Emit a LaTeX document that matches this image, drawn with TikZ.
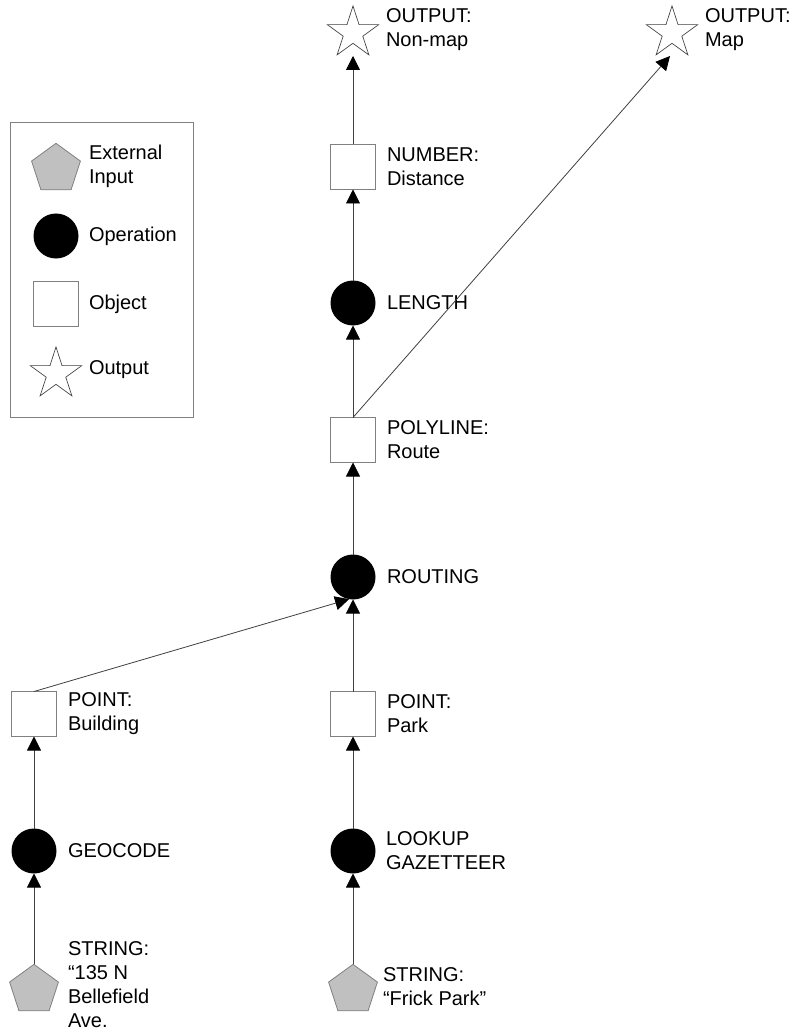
\documentclass[tikz,border=0pt]{standalone}
\usepackage{fontspec}
\setmainfont{Liberation Sans}
\usetikzlibrary{shapes.geometric,arrows.meta}
\definecolor{inputgray}{HTML}{C0C0C0}
\definecolor{edgegray}{HTML}{808080}
\definecolor{linegray}{HTML}{404040}
\begin{document}
\begin{tikzpicture}[x=0.75pt,y=-0.75pt,
 every node/.style={inner sep=0pt,outer sep=0pt},
 extnode/.style={regular polygon,regular polygon sides=5,minimum size=38.5pt,fill=inputgray,draw=edgegray,line width=0.6pt},
 opnode/.style={circle,fill=black,minimum size=33.75pt},
 objnode/.style={rectangle,draw=edgegray,fill=white,minimum size=33.75pt,line width=0.6pt},
 outnode/.style={star,star points=5,star point ratio=2.618,minimum size=40.5pt,draw=linegray,fill=white,line width=0.5pt},
 lab/.style={anchor=west,align=left,font=\fontsize{15}{18}\selectfont},
 conn/.style={draw=linegray,line width=0.6pt,-{Triangle[length=10.5pt,width=10.5pt,color=black]}}]

\useasboundingbox[fill=white] (0,0) rectangle (795,1034);

% legend
\draw[edgegray,line width=0.6pt] (10,122) rectangle (193,417);
\node[extnode] (lext) at (56,169) {};
\node[lab] (lextt) at (89,166) {External\\Input};
\node[opnode] (lop) at (56,236) {};
\node[lab] (lopt) at (89,236) {Operation};
\node[objnode] (lobj) at (56,304) {};
\node[lab] (lobjt) at (89,304) {Object};
\node[outnode] (lout) at (56,374) {};
\node[lab] (loutt) at (89,370) {Output};

% main column
\node[outnode] (nonmap) at (353,33) {};
\node[lab] (nonmapt) at (386,30) {OUTPUT:\\Non-map};
\node[outnode] (map) at (672,33) {};
\node[lab] (mapt) at (705,30) {OUTPUT:\\Map};
\coordinate (nonmapin) at (353,56);
\coordinate (mapin) at (670,56);
\node[objnode] (number) at (353,167) {};
\node[lab] (numbert) at (387,167) {NUMBER:\\Distance};
\node[opnode] (length) at (353,303) {};
\node[lab] (lengtht) at (387,303) {LENGTH};
\node[objnode] (poly) at (353,440) {};
\node[lab] (polyt) at (387,440) {POLYLINE:\\Route};
\node[opnode] (routing) at (353,577) {};
\node[lab] (routingt) at (387,577) {ROUTING};
\node[objnode] (park) at (353,714) {};
\node[lab] (parkt) at (387,714) {POINT:\\Park};
\node[opnode] (lookup) at (353,851) {};
\node[lab] (lookupt) at (386,851) {LOOKUP\\GAZETTEER};
\node[extnode] (frick) at (353,990) {};
\node[lab] (frickt) at (383,987) {STRING:\\“Frick Park”};

% left column
\node[objnode] (bldg) at (34,714) {};
\node[lab] (bldgt) at (68,714) {POINT:\\Building};
\node[opnode] (geocode) at (34,851) {};
\node[lab] (geocodet) at (68,851) {GEOCODE};
\node[extnode] (addr) at (34,990) {};
\node[lab] (addrt) at (68,985) {STRING:\\“135 N\\Bellefield\\Ave.};

% connectors
\draw[conn] (addr) -- (geocode);
\draw[conn] (geocode) -- (bldg);
\draw[conn] (bldg.north) -- (routing.260);
\draw[conn] (frick) -- (lookup);
\draw[conn] (lookup) -- (park);
\draw[conn] (park) -- (routing);
\draw[conn] (routing) -- (poly);
\draw[conn] (poly) -- (length);
\draw[conn] (length) -- (number);
\draw[conn] (number) -- (nonmapin);
\draw[conn] (poly.north) -- (mapin);
\end{tikzpicture}
\end{document}
